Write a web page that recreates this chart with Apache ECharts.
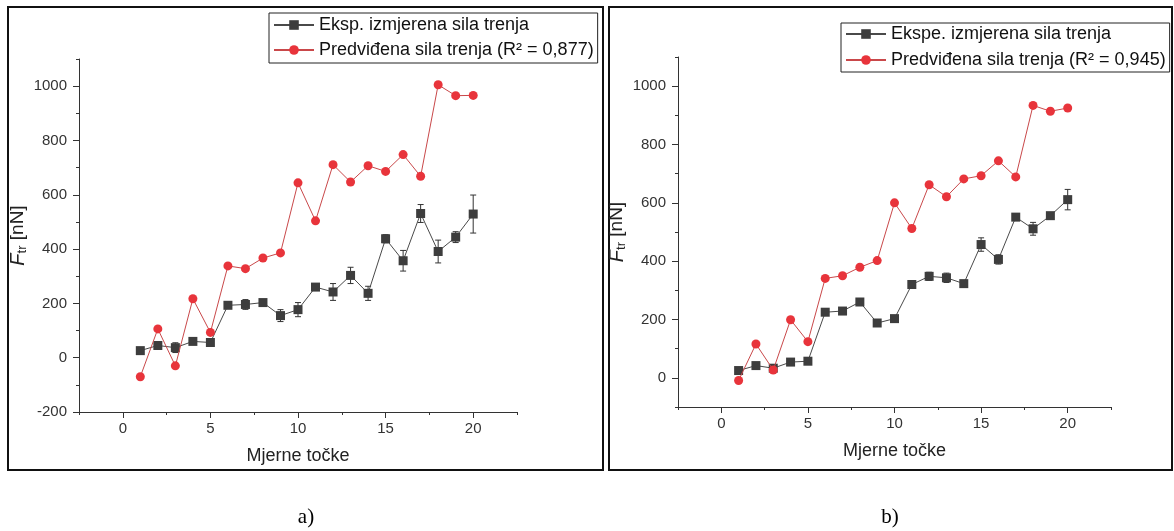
<!DOCTYPE html>
<html>
<head>
<meta charset="utf-8">
<script src="https://cdn.jsdelivr.net/npm/echarts@6/dist/echarts.min.js"></script>
<style>
  html, body { margin: 0; padding: 0; background: #fff; }
  #chart { width: 1174px; height: 531px; }
</style>
</head>
<body>
<div id="chart"></div>
<script>
// mjerne tocke 1..20
const points = [1, 2, 3, 4, 5, 6, 7, 8, 9, 10, 11, 12, 13, 14, 15, 16, 17, 18, 19, 20]

// a) panel
const expA = [26, 45, 37, 60, 56, 193, 196, 203, 155, 177, 260, 242, 303, 237, 438, 357, 531, 391, 444, 529]
const errA = [5, 6, 18, 6, 6, 8, 18, 8, 22, 26, 10, 31, 30, 26, 15, 38, 33, 42, 20, 70]
const predA = [-70, 106, -30, 217, 93, 338, 328, 367, 386, 644, 504, 711, 647, 707, 686, 748, 668, 1005, 965, 966]

// b) panel
const expB = [25, 42, 33, 54, 57, 225, 229, 260, 188, 203, 320, 348, 343, 323, 457, 406, 551, 511, 556, 611]
const errB = [4, 5, 6, 5, 6, 6, 12, 6, 6, 6, 6, 14, 16, 6, 23, 16, 6, 22, 10, 35]
const predB = [-9, 116, 27, 199, 124, 341, 350, 379, 402, 600, 512, 662, 621, 682, 693, 744, 689, 934, 914, 925]

// tick values
const xMajor = [0, 5, 10, 15, 20]
const xMinor = [-2.5, 2.5, 7.5, 12.5, 17.5, 22.5]
const yMajorA = [-200, 0, 200, 400, 600, 800, 1000]
const yMinorA = [-100, 100, 300, 500, 700, 900, 1100]
const yMajorB = [0, 200, 400, 600, 800, 1000]
const yMinorB = [-100, 100, 300, 500, 700, 900, 1100]

const nameExpA = 'Eksp. izmjerena sila trenja'
const namePredA = 'Predviđena sila trenja (R² = 0,877)'
const nameExpB = 'Ekspe. izmjerena sila trenja'
const namePredB = 'Predviđena sila trenja (R² = 0,945)'

const font = '"Liberation Sans", Arial, sans-serif'
const axisColor = '#333'
const expColor = '#3d3d3d'
const predColor = '#e8343b'

function pairs(vals) {
  return points.map((p, i) => [p, vals[i]])
}

function mainX(grid) {
  return {
    type: 'value',
    gridIndex: grid,
    min: -2.5,
    max: 22.5,
    name: 'Mjerne točke',
    nameLocation: 'middle',
    nameGap: 35,
    nameTextStyle: { fontFamily: font, fontSize: 18, color: '#222' },
    axisLine: { onZero: false, lineStyle: { color: axisColor, width: 1 } },
    axisTick: { customValues: xMajor, length: 6, lineStyle: { color: axisColor } },
    axisLabel: { customValues: xMajor, margin: 9, fontFamily: font, fontSize: 15, color: '#333', formatter: (v) => String(v) },
    splitLine: { show: false },
  }
}

function minorX(grid) {
  return {
    type: 'value',
    gridIndex: grid,
    position: 'bottom',
    min: -2.5,
    max: 22.5,
    axisLine: { show: false, onZero: false },
    axisTick: { customValues: xMinor, length: 3, lineStyle: { color: axisColor } },
    axisLabel: { show: false },
    splitLine: { show: false },
  }
}

function mainY(grid, min, majors) {
  return {
    type: 'value',
    gridIndex: grid,
    min: min,
    max: 1100,
    name: '{i|F}{s|tr} [nN]',
    nameLocation: 'middle',
    nameGap: 50,
    nameTextStyle: {
      fontFamily: font,
      fontSize: 19,
      color: '#222',
      rich: {
        i: { fontFamily: font, fontSize: 20, fontStyle: 'italic', color: '#222' },
        s: { fontFamily: font, fontSize: 13, color: '#222', padding: [9, 0, 0, 0] },
      },
    },
    axisLine: { onZero: false, lineStyle: { color: axisColor, width: 1 } },
    axisTick: { customValues: majors, length: 6, lineStyle: { color: axisColor } },
    axisLabel: { customValues: majors, margin: 12, fontFamily: font, fontSize: 15, color: '#333', formatter: (v) => String(v) },
    splitLine: { show: false },
  }
}

function minorY(grid, min, minors) {
  return {
    type: 'value',
    gridIndex: grid,
    position: 'left',
    min: min,
    max: 1100,
    axisLine: { show: false, onZero: false },
    axisTick: { customValues: minors, length: 3, lineStyle: { color: axisColor } },
    axisLabel: { show: false },
    splitLine: { show: false },
  }
}

function lineSeries(name, axis, vals, isExp) {
  return {
    name: name,
    type: 'line',
    xAxisIndex: axis,
    yAxisIndex: axis,
    data: pairs(vals),
    symbol: isExp ? 'rect' : 'circle',
    symbolSize: isExp ? 9 : 9,
    showSymbol: true,
    itemStyle: { color: isExp ? expColor : predColor },
    lineStyle: { color: isExp ? '#4a4a4a' : '#c9484a', width: 1 },
    z: isExp ? 3 : 4,
  }
}

function errorSeries(axis, vals, errs) {
  return {
    type: 'custom',
    xAxisIndex: axis,
    yAxisIndex: axis,
    silent: true,
    z: 2,
    encode: { x: 0, y: [1, 2] },
    data: points.map((p, i) => [p, vals[i] - errs[i], vals[i] + errs[i]]),
    renderItem: (params, api) => {
      const lo = api.coord([api.value(0), api.value(1)])
      const hi = api.coord([api.value(0), api.value(2)])
      const w = 3
      const style = { stroke: '#333', lineWidth: 1 }
      return {
        type: 'group',
        children: [
          { type: 'line', shape: { x1: lo[0], y1: lo[1], x2: hi[0], y2: hi[1] }, style: style },
          { type: 'line', shape: { x1: hi[0] - w, y1: hi[1], x2: hi[0] + w, y2: hi[1] }, style: style },
          { type: 'line', shape: { x1: lo[0] - w, y1: lo[1], x2: lo[0] + w, y2: lo[1] }, style: style },
        ],
      }
    },
  }
}

function legendBox(names, left, top, gap, padding) {
  return {
    data: names,
    orient: 'vertical',
    left: left,
    top: top,
    itemWidth: 40,
    itemHeight: 12,
    itemGap: gap,
    padding: padding,
    borderColor: '#222',
    borderWidth: 1,
    selectedMode: false,
    textStyle: { fontFamily: font, fontSize: 18, lineHeight: 18, color: '#111' },
  }
}

const chartDom = echarts.init(document.getElementById('chart'))

const option = {
  animation: false,
  backgroundColor: '#fff',
  grid: [
    { left: 79, top: 59, width: 438, height: 353 },
    { left: 678, top: 57, width: 433, height: 350 },
  ],
  xAxis: [mainX(0), mainX(1), minorX(0), minorX(1)],
  yAxis: [mainY(0, -200, yMajorA), mainY(1, -100, yMajorB), minorY(0, -200, yMinorA), minorY(1, -100, yMinorB)],
  legend: [
    legendBox([nameExpA, namePredA], 269, 13, 7, [3, 4, 4, 4]),
    legendBox([nameExpB, namePredB], 841, 23, 8, [2, 4, 3, 4]),
  ],
  series: [
    errorSeries(0, expA, errA),
    lineSeries(nameExpA, 0, expA, true),
    lineSeries(namePredA, 0, predA, false),
    errorSeries(1, expB, errB),
    lineSeries(nameExpB, 1, expB, true),
    lineSeries(namePredB, 1, predB, false),
  ],
  graphic: [
    // okviri panela
    { type: 'rect', shape: { x: 8, y: 7, width: 595, height: 463 }, style: { fill: null, stroke: '#111', lineWidth: 2 }, z: 0 },
    { type: 'rect', shape: { x: 609, y: 7, width: 563, height: 463 }, style: { fill: null, stroke: '#111', lineWidth: 2 }, z: 0 },
    { type: 'text', x: 306, y: 517, style: { text: 'a)', fontFamily: '"Liberation Serif", serif', fontSize: 21, fill: '#000', align: 'center', verticalAlign: 'middle' } },
    { type: 'text', x: 890, y: 517, style: { text: 'b)', fontFamily: '"Liberation Serif", serif', fontSize: 21, fill: '#000', align: 'center', verticalAlign: 'middle' } },
  ],
}

chartDom.setOption(option)
</script>
</body>
</html>
